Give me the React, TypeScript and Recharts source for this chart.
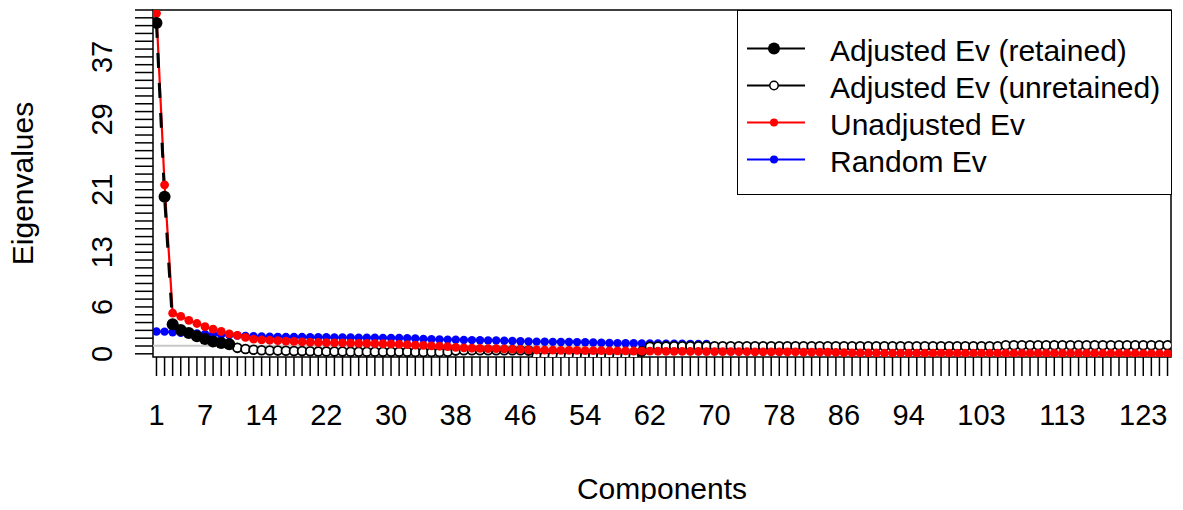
import React from 'react';
import { LineChart, Line, XAxis, YAxis, ReferenceLine, ReferenceArea, Legend, Label } from 'recharts';

// component index on the x axis
const components = Array.from({ length: 126 }, (_, i) => i + 1);

const unadjustedEv = [
  42.7, 21.2, 5.1, 4.7, 4.2, 3.8, 3.4, 3.1, 2.8, 2.5,
  2.3, 2.05, 1.85, 1.75, 1.7, 1.65, 1.6, 1.55, 1.5, 1.46,
  1.42, 1.4, 1.38, 1.36, 1.34, 1.32, 1.3, 1.28, 1.26, 1.24,
  1.2, 1.15, 1.1, 1.05, 1.0, 0.95, 0.9, 0.8, 0.75, 0.7,
  0.68, 0.66, 0.64, 0.62, 0.6, 0.55, 0.5, 0.48, 0.46, 0.45,
  0.44, 0.43, 0.42, 0.41, 0.4, 0.39, 0.38, 0.37, 0.36, 0.35,
  0.34, 0.33, 0.32, 0.31, 0.3, 0.3, 0.29, 0.29, 0.28, 0.28,
  0.27, 0.27, 0.26, 0.26, 0.25, 0.25, 0.24, 0.24, 0.23, 0.23,
  0.22, 0.22, 0.21, 0.2, 0.18, 0.15, 0.12, 0.1, 0.1, 0.1,
  0.09, 0.09, 0.09, 0.09, 0.08, 0.08, 0.08, 0.08, 0.08, 0.07,
  0.07, 0.07, 0.07, 0.07, 0.07, 0.06, 0.06, 0.06, 0.06, 0.06,
  0.06, 0.05, 0.05, 0.05, 0.05, 0.05, 0.05, 0.04, 0.04, 0.04,
  0.04, 0.04, 0.03, 0.03, 0.03, 0.03,
];

const randomEv = [
  2.8, 2.78, 2.7, 2.65, 2.6, 2.55, 2.5, 2.45, 2.4, 2.35,
  2.3, 2.25, 2.2, 2.17, 2.15, 2.13, 2.12, 2.11, 2.1, 2.09,
  2.08, 2.07, 2.06, 2.05, 2.04, 2.03, 2.02, 2.01, 2.0, 1.99,
  1.98, 1.96, 1.92, 1.86, 1.82, 1.8, 1.78, 1.76, 1.74, 1.72,
  1.7, 1.68, 1.66, 1.63, 1.6, 1.57, 1.55, 1.53, 1.52, 1.5,
  1.49, 1.48, 1.47, 1.45, 1.42, 1.38, 1.36, 1.34, 1.33, 1.32,
  1.31, 1.3, 1.29, 1.28, 1.27, 1.26, 1.25, 1.24, 1.23, 0.95,
  0.95, 0.95, 0.95, 0.95, 0.95, 0.95, 0.95, 0.95, 0.95, 0.95,
  0.95, 0.95, 0.95, 0.95, 0.95, 0.95, 0.95, 0.95, 0.95, 0.95,
  0.95, 0.95, 0.95, 0.95, 0.95, 0.95, 0.95, 0.95, 0.95, 0.95,
  0.95, 0.95, 0.95, 0.95, 0.95, 1.08, 1.08, 1.08, 1.08, 1.08,
  1.08, 1.08, 1.08, 1.08, 1.08, 1.08, 1.08, 1.08, 1.08, 1.08,
  1.08, 1.08, 1.08, 1.08, 1.08, 1.08,
];

// components 1..10
const adjustedRetained = [41.5, 19.7, 3.7, 3.0, 2.6, 2.2, 1.85, 1.55, 1.35, 1.2];

// components 11..126
const adjustedUnretained = [
  0.75, 0.6, 0.5, 0.45, 0.42, 0.4, 0.38, 0.36, 0.34, 0.32,
  0.3, 0.3, 0.28, 0.28, 0.27, 0.27, 0.26, 0.26, 0.25, 0.25,
  0.25, 0.25, 0.24, 0.24, 0.24, 0.24, 0.25, 0.4, 0.45, 0.45,
  0.45, 0.45, 0.45, 0.45, 0.45, 0.45, 0.4, -0.3, -0.3, -0.3,
  -0.3, -0.3, -0.3, -0.3, -0.3, -0.3, -0.3, -0.3, -0.3, -0.3,
  0.3, 0.9, 0.92, 0.93, 0.94, 0.95, 0.95, 0.95, 0.95, 0.95,
  0.95, 0.95, 0.95, 0.95, 0.95, 0.95, 0.95, 0.95, 0.95, 0.95,
  0.95, 0.95, 0.95, 0.95, 0.95, 0.95, 0.95, 0.95, 0.95, 0.95,
  0.95, 0.95, 0.95, 0.95, 0.95, 0.95, 0.95, 0.95, 0.95, 0.95,
  0.95, 0.95, 0.95, 0.95, 0.95, 1.08, 1.08, 1.08, 1.08, 1.08,
  1.08, 1.08, 1.08, 1.08, 1.08, 1.08, 1.08, 1.08, 1.08, 1.08,
  1.08, 1.08, 1.08, 1.08, 1.08, 1.08,
];

const xTickLabels = [1, 7, 14, 22, 30, 38, 46, 54, 62, 70, 78, 86, 94, 103, 113, 123];
const yTickStep = 0.98;
const yTicks = Array.from({ length: 45 }, (_, k) => k * yTickStep);
const yTickLabels = ['0', '6', '13', '21', '29', '37'];
const yTickLabelIndex = [0, 6, 13, 21, 30, 38];

const legendItems = [
  { label: 'Adjusted Ev (retained)', color: '#000000', kind: 'big' },
  { label: 'Adjusted Ev (unretained)', color: '#000000', kind: 'open' },
  { label: 'Unadjusted Ev', color: '#ff0000', kind: 'dot' },
  { label: 'Random Ev', color: '#0000ff', kind: 'dot' },
];

const retainedCount = adjustedRetained.length;

const data = components.map((c, i) => ({
  comp: c,
  unadj: unadjustedEv[i],
  rand: randomEv[i],
  adjRet: i < retainedCount ? adjustedRetained[i] : null,
  adjUnret: i >= retainedCount ? adjustedUnretained[i - retainedCount] : null,
}));

const FONT = '"Liberation Sans", Arial, sans-serif';
const X_MIN = 0.57;
const X_MAX = 126.43;
const Y_MIN = -0.4;
const Y_MAX = 43.12;

const YTick = (props: any) => {
  const { x, y, payload } = props;
  const k = Math.round(payload.value / yTickStep);
  const pos = yTickLabelIndex.indexOf(k);
  if (pos < 0) return <g />;
  return (
    <text x={x} y={y} transform={`rotate(-90 ${x} ${y})`} textAnchor="middle"
      fontSize={29} fill="#000" fontFamily={FONT}>
      {yTickLabels[pos]}
    </text>
  );
};

const LegendBox = () => (
  <div style={{
    boxSizing: 'border-box', width: 435, height: 185, border: '1.5px solid #000',
    background: '#fff', paddingTop: 19, fontFamily: FONT,
  }}>
    {legendItems.map((it) => (
      <div key={it.label} style={{ display: 'flex', alignItems: 'center', height: 37 }}>
        <svg width={92} height={37} style={{ flex: 'none' }}>
          <line x1={9} x2={67} y1={18.5} y2={18.5} stroke={it.color} strokeWidth={2} />
          {it.kind === 'big' && <circle cx={36} cy={18.5} r={6} fill={it.color} />}
          {it.kind === 'open' && <circle cx={36} cy={18.5} r={4.2} fill="#fff" stroke={it.color} strokeWidth={1.5} />}
          {it.kind === 'dot' && <circle cx={36} cy={18.5} r={4} fill={it.color} />}
        </svg>
        <span style={{ fontSize: 30, lineHeight: '37px', color: '#000', paddingTop: 4, whiteSpace: 'nowrap' }}>
          {it.label}
        </span>
      </div>
    ))}
  </div>
);

export default function App() {
  return (
    <div style={{ margin: -8 }}>
      <LineChart width={1183} height={510} data={data}
        margin={{ top: 10, right: 12, left: 0, bottom: 0 }}
        style={{ fontFamily: FONT, background: '#fff' }}>
        <XAxis dataKey="comp" type="number" domain={[X_MIN, X_MAX]} allowDataOverflow
          ticks={components} interval={0} height={153} axisLine={false}
          tickSize={19} tickMargin={28}
          tickLine={{ stroke: '#000', strokeWidth: 1.5 }}
          tick={{ fill: '#000', fontSize: 29, fontFamily: FONT }}
          tickFormatter={(v: number) => (xTickLabels.includes(v) ? String(v) : '')}>
          <Label value="Components" position="insideBottom" offset={11} fontSize={30} fill="#000" fontFamily={FONT} />
        </XAxis>
        <YAxis type="number" domain={[Y_MIN, Y_MAX]} allowDataOverflow ticks={yTicks}
          interval={0} width={153} axisLine={false} tickSize={18} tickMargin={23}
          tickLine={{ stroke: '#000', strokeWidth: 1.5 }} tick={<YTick />}>
          <Label content={(p: any) => {
            const vb = p.viewBox;
            const cx = vb.x + 33;
            const cy = vb.y + vb.height / 2;
            return (
              <text x={cx} y={cy} transform={`rotate(-90 ${cx} ${cy})`} textAnchor="middle"
                fontSize={30} fill="#000" fontFamily={FONT}>Eigenvalues</text>
            );
          }} />
        </YAxis>
        <ReferenceLine y={1} stroke="#c8c8c8" strokeWidth={2} />
        <Line dataKey="rand" stroke="#0000ff" strokeWidth={2} isAnimationActive={false}
          dot={{ r: 4.2, fill: '#0000ff', stroke: '#0000ff', strokeWidth: 0 }} />
        <Line dataKey="adjUnret" stroke="#000" strokeWidth={1.8} isAnimationActive={false}
          connectNulls={false}
          dot={{ r: 4.4, fill: '#fff', stroke: '#000', strokeWidth: 1.8 }} />
        <Line dataKey="unadj" stroke="#ff0000" strokeWidth={2.2} isAnimationActive={false}
          dot={{ r: 4.4, fill: '#ff0000', stroke: '#ff0000', strokeWidth: 0 }} />
        <Line dataKey="adjRet" stroke="#000" strokeWidth={3} strokeDasharray="15 15"
          isAnimationActive={false} connectNulls={false}
          dot={{ r: 6, fill: '#000', stroke: '#000', strokeWidth: 0 }} />
        <ReferenceArea x1={X_MIN} x2={X_MAX} y1={Y_MIN} y2={Y_MAX} fill="none"
          stroke="#000" strokeWidth={1.5} ifOverflow="visible" />
        <Legend layout="horizontal" verticalAlign="middle" align="center"
          wrapperStyle={{ left: 737, top: 10, width: 435, height: 185 }}
          content={() => <LegendBox />} />
      </LineChart>
    </div>
  );
}
